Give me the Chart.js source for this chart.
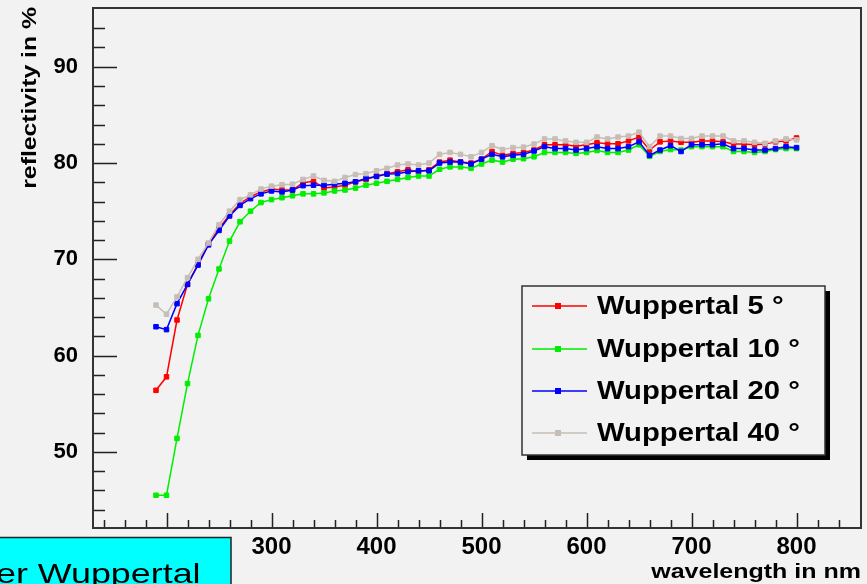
<!DOCTYPE html>
<html>
<head>
<meta charset="utf-8">
<title>reflectivity</title>
<script src="https://cdn.jsdelivr.net/npm/chart.js@4"></script>
<style>
  body { margin: 0; background: #f2f2f2; }
  canvas { display: block; }
</style>
</head>
<body>
<canvas id="myChart" width="867" height="584"></canvas>
<script>
// wavelength in nm, one point every 10 nm
const wavelengths = [190, 200, 210, 220, 230, 240, 250, 260, 270, 280, 290, 300, 310, 320, 330, 340, 350, 360, 370, 380,
  390, 400, 410, 420, 430, 440, 450, 460, 470, 480, 490, 500, 510, 520, 530, 540, 550, 560, 570, 580,
  590, 600, 610, 620, 630, 640, 650, 660, 670, 680, 690, 700, 710, 720, 730, 740, 750, 760, 770, 780,
  790, 800];

// reflectivity in % for each angle
const wup5 = [56.4, 57.8, 63.7, 67.4, 69.5, 71.6, 73.2, 74.6, 75.8, 76.5, 77.0, 77.3, 77.2, 77.2, 77.95, 78.1, 77.4, 77.5, 77.7, 78.05,
  78.3, 78.65, 78.9, 79.1, 79.3, 79.1, 79.3, 80.1, 80.3, 80.1, 80.0, 80.4, 81.2, 80.8, 81.0, 81.1, 81.35, 81.9, 81.9, 81.9,
  81.75, 81.9, 82.1, 82.0, 82.0, 82.3, 82.7, 81.35, 82.2, 82.3, 82.15, 82.15, 82.3, 82.3, 82.2, 81.97, 81.97, 81.9, 81.97, 82.2,
  82.3, 82.6];
const wup10 = [45.5, 45.5, 51.4, 57.1, 62.1, 65.9, 69.0, 71.9, 73.9, 75.0, 75.9, 76.2, 76.4, 76.6, 76.8, 76.8, 76.9, 77.1, 77.2, 77.4,
  77.7, 77.9, 78.1, 78.3, 78.5, 78.65, 78.65, 79.35, 79.6, 79.6, 79.45, 79.9, 80.3, 80.1, 80.4, 80.45, 80.65, 81.1, 81.1, 81.1,
  81.0, 81.1, 81.3, 81.1, 81.1, 81.35, 81.9, 80.7, 81.2, 81.4, 81.35, 81.7, 81.7, 81.7, 81.7, 81.2, 81.2, 81.1, 81.2, 81.4,
  81.5, 81.5];
const wup20 = [63.0, 62.7, 65.4, 67.4, 69.4, 71.5, 73.0, 74.5, 75.6, 76.3, 76.8, 77.1, 77.0, 77.2, 77.65, 77.7, 77.7, 77.8, 77.9, 78.05,
  78.4, 78.6, 78.85, 78.9, 79.1, 79.2, 79.2, 80.0, 80.1, 80.1, 79.9, 80.4, 80.9, 80.65, 80.8, 80.9, 81.25, 81.7, 81.5, 81.5,
  81.35, 81.5, 81.7, 81.5, 81.5, 81.7, 82.2, 80.8, 81.35, 81.8, 81.2, 81.9, 81.9, 81.9, 82.0, 81.5, 81.5, 81.35, 81.35, 81.5,
  81.7, 81.6];
const wup40 = [65.25, 64.3, 66.1, 68.1, 70.0, 71.7, 73.6, 75.0, 76.2, 76.7, 77.3, 77.6, 77.75, 77.8, 78.3, 78.65, 78.2, 78.1, 78.5, 78.8,
  78.9, 79.2, 79.45, 79.8, 79.9, 79.8, 80.0, 80.9, 81.1, 80.9, 80.65, 81.1, 81.8, 81.4, 81.6, 81.65, 81.97, 82.5, 82.5, 82.3,
  82.15, 82.15, 82.7, 82.5, 82.7, 82.8, 83.2, 81.7, 82.8, 82.8, 82.55, 82.55, 82.8, 82.8, 82.8, 82.3, 82.3, 82.15, 82.05, 82.3,
  82.5, 82.4];

const seriesNames = ['Wuppertal 5 °', 'Wuppertal 10 °', 'Wuppertal 20 °', 'Wuppertal 40 °'];
const seriesColors = ['#ff0000', '#00ee00', '#0000ff', '#c6beb6'];

const xTicks = [200, 300, 400, 500, 600, 700, 800];
const yTicks = [50, 60, 70, 80, 90];

// draws text stretched along its own x direction
function wideText(ctx, text, x, y, sx) {
  ctx.save();
  ctx.translate(x, y);
  ctx.scale(sx, 1);
  ctx.fillText(text, 0, 0);
  ctx.restore();
}

// frame, inward ticks, titles, legend box and the label box in the corner
const rootStyle = {
  id: 'rootStyle',
  beforeDraw(chart) {
    const ctx = chart.ctx;
    ctx.save();
    ctx.fillStyle = '#f2f2f2';
    ctx.fillRect(0, 0, chart.width, chart.height);
    ctx.restore();
  },
  afterDraw(chart) {
    const ctx = chart.ctx;
    const area = chart.chartArea;
    const xs = chart.scales.x, ys = chart.scales.y;
    ctx.save();

    // tick marks pointing into the frame
    ctx.strokeStyle = '#222';
    ctx.lineWidth = 1.5;
    ctx.beginPath();
    for (let v = 44; v <= 94; v += 2) {
      const y = Math.round(ys.getPixelForValue(v)) + 0.5;
      const len = v % 10 === 0 ? 24 : 12;
      ctx.moveTo(area.left, y);
      ctx.lineTo(area.left + len, y);
    }
    for (let v = 140; v <= 840; v += 20) {
      const x = Math.round(xs.getPixelForValue(v)) + 0.5;
      const len = v % 100 === 0 ? 15 : 8;
      ctx.moveTo(x, area.bottom);
      ctx.lineTo(x, area.bottom - len);
    }
    ctx.stroke();

    // frame
    ctx.strokeStyle = '#333';
    ctx.lineWidth = 2;
    ctx.strokeRect(area.left, area.top, area.right - area.left, area.bottom - area.top);

    // axis titles
    ctx.fillStyle = '#000';
    ctx.font = 'bold 20px "Liberation Sans", Arial, sans-serif';
    ctx.textAlign = 'right';
    ctx.textBaseline = 'alphabetic';
    wideText(ctx, 'wavelength in nm', area.right, 578, 1.25);
    ctx.save();
    ctx.translate(36, 7);
    ctx.rotate(-Math.PI / 2);
    ctx.font = 'bold 21px "Liberation Sans", Arial, sans-serif';
    wideText(ctx, 'reflectivity in %', 0, 0, 1.18);
    ctx.restore();

    // legend with drop shadow
    const lx = 522, ly = 286, lw = 303, lh = 169;
    ctx.fillStyle = '#000';
    ctx.fillRect(lx + 5, ly + 5, lw, lh);
    ctx.fillStyle = '#f2f2f2';
    ctx.fillRect(lx, ly, lw, lh);
    ctx.strokeStyle = '#333';
    ctx.lineWidth = 1.5;
    ctx.strokeRect(lx, ly, lw, lh);
    const rows = [306, 349, 391, 433];
    chart.data.datasets.forEach((ds, i) => {
      const y = rows[i];
      ctx.strokeStyle = ds.borderColor;
      ctx.lineWidth = 1.5;
      ctx.beginPath();
      ctx.moveTo(532, y);
      ctx.lineTo(587, y);
      ctx.stroke();
      ctx.fillStyle = ds.borderColor;
      ctx.fillRect(555, y - 3, 6, 6);
      ctx.fillStyle = '#000';
      ctx.textAlign = 'left';
      ctx.font = 'bold 25px "Liberation Sans", Arial, sans-serif';
      wideText(ctx, ds.label, 597, y + 8, 1.17);
    });

    // label box at the lower left
    ctx.fillStyle = '#00ffff';
    ctx.fillRect(-2, 537, 233, 50);
    ctx.strokeStyle = '#222';
    ctx.lineWidth = 1.5;
    ctx.strokeRect(-2, 537.5, 233, 50);
    ctx.fillStyle = '#000';
    ctx.font = '28px "Liberation Sans", Arial, sans-serif';
    ctx.textAlign = 'left';
    wideText(ctx, 'er Wuppertal', -4, 583, 1.28);

    ctx.restore();
  }
};

function createChart() {
  const ctx = document.getElementById('myChart').getContext('2d');
  const series = [wup5, wup10, wup20, wup40];
  const chart = new Chart(ctx, {
    type: 'line',
    data: {
      datasets: series.map((vals, i) => ({
        label: seriesNames[i],
        data: wavelengths.map((w, j) => ({ x: w, y: vals[j] })),
        borderColor: seriesColors[i],
        backgroundColor: seriesColors[i],
        pointBackgroundColor: seriesColors[i],
        pointBorderColor: seriesColors[i],
        borderWidth: 1.5,
        pointStyle: 'rect',
        pointRadius: 3.2,
        pointBorderWidth: 1,
        tension: 0,
        order: 4 - i
      }))
    },
    options: {
      responsive: false,
      animation: false,
      devicePixelRatio: 1,
      layout: { padding: { top: 8, right: 6, left: 0, bottom: 0 } },
      plugins: { legend: { display: false }, tooltip: { enabled: false } },
      scales: {
        x: {
          type: 'linear',
          min: 130,
          max: 861.4,
          grid: { display: false },
          border: { display: false },
          afterFit: s => {
            s.height = 56;
            s.paddingLeft = 0;
            s.paddingRight = 0;
          },
          afterBuildTicks: s => { s.ticks = xTicks.map(v => ({ value: v })); },
          ticks: {
            padding: -3,
            color: '#000',
            font: { family: '"Liberation Sans", Arial, sans-serif', size: 24, weight: 'bold' }
          }
        },
        y: {
          min: 42.1,
          max: 96.1,
          grid: { display: false },
          border: { display: false },
          afterFit: s => {
            s.width = 93;
            s.paddingTop = 0;
            s.paddingBottom = 0;
          },
          afterBuildTicks: s => { s.ticks = yTicks.map(v => ({ value: v })); },
          ticks: {
            padding: 7,
            color: '#000',
            font: { family: '"Liberation Sans", Arial, sans-serif', size: 22, weight: 'bold' }
          }
        }
      }
    },
    plugins: [rootStyle]
  });
}

document.addEventListener("DOMContentLoaded", function() {
  createChart();
});
</script>
</body>
</html>
